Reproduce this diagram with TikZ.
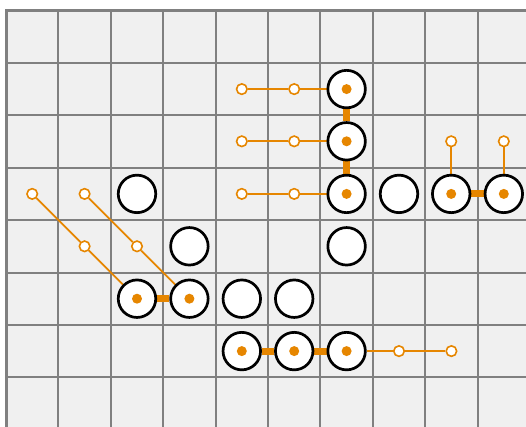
\documentclass[tikz,border=0pt]{standalone}
\pgfdeclarelayer{gridlayer}
\pgfdeclarelayer{linklayer}
\pgfsetlayers{gridlayer,linklayer,main}
\definecolor{orng}{RGB}{230,134,0}
\definecolor{gridfill}{RGB}{240,240,240}
\definecolor{gridcol}{RGB}{128,128,128}
\begin{document}
\begin{tikzpicture}[x=1pt,y=-1pt,
  stone/.style={circle,draw=black,line width=2.7pt,fill=white,minimum size=37.5pt,inner sep=0pt},
  pipstone/.style={stone,path picture={\fill[orng] (path picture bounding box.center) circle (5pt);}},
  pip/.style={circle,draw=orng,line width=1.6pt,fill=white,minimum size=10.5pt,inner sep=0pt},
  thinlink/.style={draw=orng,line width=1.8pt},
  barlink/.style={draw=orng,line width=7pt},
  gridline/.style={draw=gridcol,line width=2pt}]
\useasboundingbox (0,0) rectangle (526,427);
\begin{pgfonlayer}{gridlayer}
  \clip (0,0) rectangle (526,427);
  \fill[gridfill] (6,10.5) rectangle (540,440);
  \foreach \i in {1,...,9} \draw[gridline] ({6+52.4*\i},10.5) -- ({6+52.4*\i},440);
  \foreach \j in {1,...,8} \draw[gridline] (6,{10.5+52.4*\j}) -- (540,{10.5+52.4*\j});
  \draw[draw=gridcol,line width=3pt] (6,440) -- (6,10.5) -- (540,10.5);
\end{pgfonlayer}
% stones
\node[pipstone] (s61) at (346.6,89.1) {};
\node[pipstone] (s62) at (346.6,141.3) {};
\node[stone]    (s23) at (137.0,193.9) {};
\node[pipstone] (s63) at (346.6,193.9) {};
\node[stone]    (s73) at (399.0,193.9) {};
\node[pipstone] (s83) at (451.2,193.9) {};
\node[pipstone] (s93) at (503.8,193.9) {};
\node[stone]    (s34) at (189.4,246.3) {};
\node[stone]    (s64) at (346.6,246.3) {};
\node[pipstone] (s25) at (137.0,298.7) {};
\node[pipstone] (s35) at (189.4,298.7) {};
\node[stone]    (s45) at (241.8,298.7) {};
\node[stone]    (s55) at (294.2,298.7) {};
\node[pipstone] (s46) at (241.8,351.1) {};
\node[pipstone] (s56) at (294.2,351.1) {};
\node[pipstone] (s66) at (346.6,351.1) {};
% small markers
\node[pip] (p41) at (241.8,89.1) {};
\node[pip] (p51) at (294.2,89.1) {};
\node[pip] (p42) at (241.8,141.3) {};
\node[pip] (p52) at (294.2,141.3) {};
\node[pip] (p43) at (241.8,193.9) {};
\node[pip] (p53) at (294.2,193.9) {};
\node[pip] (p82) at (451.2,141.3) {};
\node[pip] (p92) at (503.8,141.3) {};
\node[pip] (p03) at (32.2,193.9) {};
\node[pip] (p13) at (84.6,193.9) {};
\node[pip] (p14) at (84.6,246.3) {};
\node[pip] (p24) at (137.0,246.3) {};
\node[pip] (p76) at (399.0,351.1) {};
\node[pip] (p86) at (451.4,351.1) {};
\begin{pgfonlayer}{linklayer}
  \draw[thinlink] (p41) -- (p51) -- (s61);
  \draw[thinlink] (p42) -- (p52) -- (s62);
  \draw[thinlink] (p43) -- (p53) -- (s63);
  \draw[thinlink] (p82) -- (s83);
  \draw[thinlink] (p92) -- (s93);
  \draw[thinlink] (p03) -- (p14) -- (s25);
  \draw[thinlink] (p13) -- (p24) -- (s35);
  \draw[thinlink] (s66) -- (p76) -- (p86);
  \draw[barlink] (s61) -- (s62);
  \draw[barlink] (s62) -- (s63);
  \draw[barlink] (s83) -- (s93);
  \draw[barlink] (s25) -- (s35);
  \draw[barlink] (s46) -- (s56);
  \draw[barlink] (s56) -- (s66);
\end{pgfonlayer}
\end{tikzpicture}
\end{document}
